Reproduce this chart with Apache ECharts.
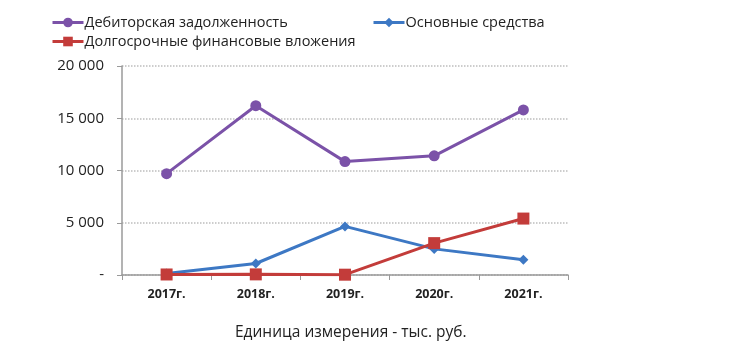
<!DOCTYPE html>
<html>
<head>
<meta charset="utf-8">
<script src="https://cdn.jsdelivr.net/npm/echarts@6/dist/echarts.min.js"></script>
<style>
    html, body { margin: 0; padding: 0; background: #fff; }
    #chart { width: 750px; height: 353px; }
</style>
</head>
<body>
<div id="chart"></div>
<script>
const years = ["2017г.", "2018г.", "2019г.", "2020г.", "2021г."];
const debt = [9700, 16200, 10850, 11400, 15800];
const fixedAssets = [150, 1100, 4650, 2500, 1450];
const longInvest = [50, 60, 30, 3050, 5400];
const unitNote = "Единица измерения - тыс. руб.";

const font = "'Open Sans', 'Noto Sans', sans-serif";
const colors = ["#7B52A8", "#3D78C4", "#C33C3A"];
const names = ["Дебиторская задолженность", "Основные средства", "Долгосрочные финансовые вложения"];

function fmt(v) {
    if (v === 0) return "-";
    return String(v).replace(/\B(?=(\d{3})+(?!\d))/g, " ");
}

const chart = echarts.init(document.getElementById("chart"));

function legendAt(name, left, top) {
    return {
        data: [name],
        left: left,
        top: top,
        itemWidth: 31,
        itemHeight: 12,
        itemGap: 0,
        padding: 0,
        selectedMode: false,
        lineStyle: { width: 3 },
        textStyle: { fontFamily: font, fontSize: 14.5, color: "#222", padding: [0, 0, 0, -4] }
    };
}

const options = {
    color: colors,
    animation: false,
    legend: [
        legendAt(names[0], 51, 15),
        legendAt(names[1], 372, 15),
        legendAt(names[2], 51, 34)
    ],
    grid: { left: 122, right: 182, top: 66, bottom: 78 },
    xAxis: {
        type: "category",
        data: years,
        boundaryGap: true,
        axisLine: { lineStyle: { color: "#9a9a9a", width: 1.5 } },
        axisTick: { show: true, length: 5, lineStyle: { color: "#9a9a9a" } },
        axisLabel: { margin: 13, fontFamily: font, fontWeight: "bold", fontSize: 12.5, color: "#222" }
    },
    yAxis: {
        type: "value",
        min: 0,
        max: 20000,
        interval: 5000,
        axisLine: { show: true, lineStyle: { color: "#9a9a9a", width: 1.5 } },
        axisTick: { show: true, length: 5, lineStyle: { color: "#9a9a9a" } },
        axisLabel: { margin: 18, fontFamily: font, fontSize: 15, color: "#222", formatter: fmt },
        splitLine: { lineStyle: { color: "#bdbdbd", type: "dotted", width: 1.5 } }
    },
    graphic: [{
        type: "text",
        left: 235,
        top: 325,
        style: { text: unitNote, fontFamily: font, fontSize: 15.5, fill: "#222" }
    }],
    series: [
        { name: names[0], type: "line", data: debt, symbol: "circle", symbolSize: 11,
          lineStyle: { width: 3 }, z: 3 },
        { name: names[1], type: "line", data: fixedAssets, symbol: "diamond", symbolSize: 10,
          lineStyle: { width: 3 }, z: 2 },
        { name: names[2], type: "line", data: longInvest, symbol: "rect", symbolSize: 12,
          lineStyle: { width: 3 }, z: 4 }
    ]
};
chart.setOption(options);
</script>
</body>
</html>
